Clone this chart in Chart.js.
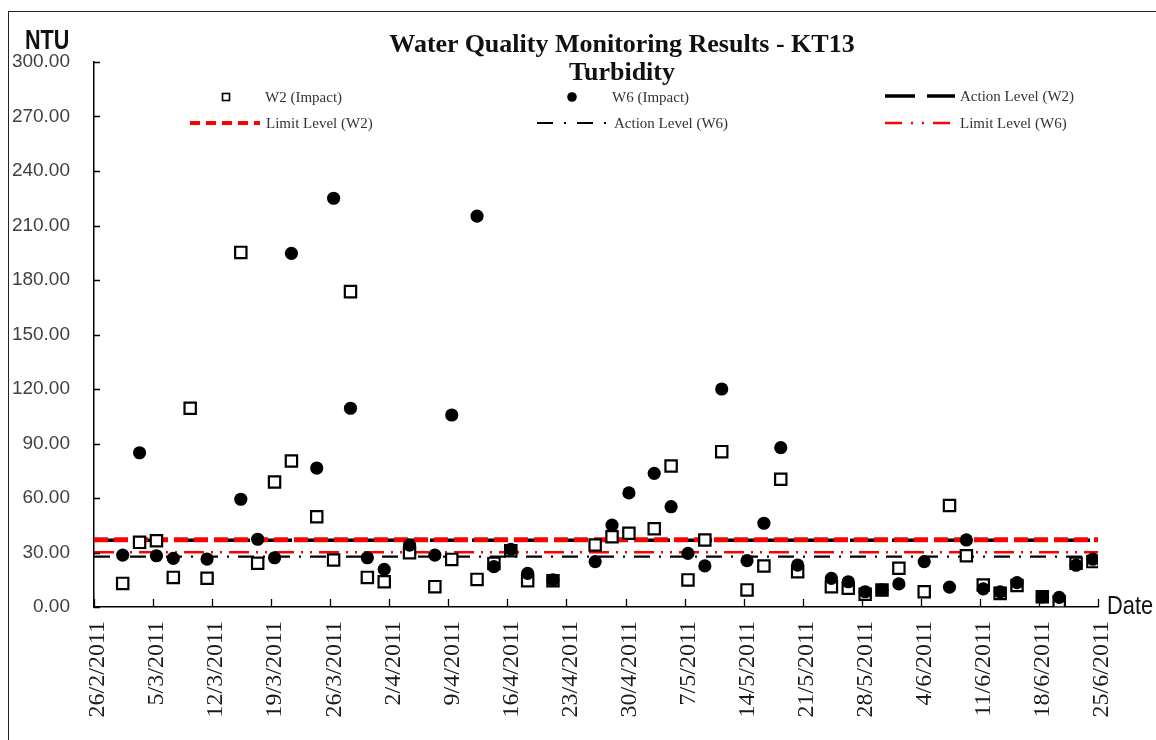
<!DOCTYPE html>
<html>
<head>
<meta charset="utf-8">
<title>Water Quality Monitoring Results - KT13</title>
<script src="https://cdn.jsdelivr.net/npm/chart.js@4.4.1/dist/chart.umd.min.js"></script>
<style>
    html, body { margin: 0; padding: 0; background: #fff; }
    body { width: 1156px; height: 740px; position: relative; overflow: hidden; }

    #frame {
        position: absolute; left: 8px; top: 11px; width: 1200px; height: 800px;
        border-left: 1.5px solid #222; border-top: 1.5px solid #222;
    }
    #chart { position: absolute; left: 0; top: 0; }

    .title {
        position: absolute; left: 0; width: 1244px; text-align: center;
        font: bold 26px "Liberation Serif", "Times New Roman", serif;
        line-height: 26px; color: #111;
    }
    .axis-name {
        position: absolute; font-family: "Liberation Sans", Arial, sans-serif;
        color: #111; line-height: 1; transform-origin: left top;
    }
    #ntu { left: 25px; top: 27px; font-size: 27px; font-weight: bold; transform: scaleX(0.8); }
    #date { left: 1107px; top: 592px; font-size: 26px; transform: scaleX(0.84); }

    .legend-item { position: absolute; height: 16px; }
    .legend-item svg { position: absolute; top: 0; }
    .legend-item span {
        position: absolute; top: 0; white-space: nowrap;
        font: 15px "Liberation Serif", "Times New Roman", serif;
        line-height: 16px; color: #333;
    }
</style>
</head>
<body>
<div id="frame"></div>
<canvas id="chart" width="1156" height="740"></canvas>

<div class="title" style="top:31px">Water Quality Monitoring Results - KT13</div>
<div class="title" style="top:59px">Turbidity</div>
<div class="axis-name" id="ntu">NTU</div>
<div class="axis-name" id="date">Date</div>

<!-- legend: 3 columns x 2 rows, same as the report template -->
<div class="legend-item" style="left:190px; top:89px">
    <svg width="75" height="16"><rect x="32.5" y="4.5" width="7" height="7" fill="#fff" stroke="#000" stroke-width="1.6"/></svg>
    <span style="left:75px">W2 (Impact)</span>
</div>
<div class="legend-item" style="left:537px; top:89px">
    <svg width="75" height="16"><circle cx="35" cy="8" r="4.8" fill="#000"/></svg>
    <span style="left:75px">W6 (Impact)</span>
</div>
<div class="legend-item" style="left:885px; top:88px">
    <svg width="72" height="16"><line x1="0" y1="8" x2="70" y2="8" stroke="#000" stroke-width="3.5" stroke-dasharray="30 12"/></svg>
    <span style="left:75px">Action Level (W2)</span>
</div>
<div class="legend-item" style="left:190px; top:115px">
    <svg width="72" height="16"><line x1="0" y1="8" x2="70" y2="8" stroke="#f00" stroke-width="4" stroke-dasharray="10 6"/></svg>
    <span style="left:76px">Limit Level (W2)</span>
</div>
<div class="legend-item" style="left:537px; top:115px">
    <svg width="72" height="16"><line x1="0" y1="8" x2="70" y2="8" stroke="#000" stroke-width="2.2" stroke-dasharray="16 11 2 11"/></svg>
    <span style="left:77px">Action Level (W6)</span>
</div>
<div class="legend-item" style="left:885px; top:115px">
    <svg width="72" height="16"><line x1="0" y1="8" x2="70" y2="8" stroke="#f00" stroke-width="2.4" stroke-dasharray="17 9 2 9 2 9"/></svg>
    <span style="left:75px">Limit Level (W6)</span>
</div>

<script>
/* ---------- Data ---------- */
const tickLabels = [
    "26/2/2011", "5/3/2011", "12/3/2011", "19/3/2011", "26/3/2011", "2/4/2011",
    "9/4/2011", "16/4/2011", "23/4/2011", "30/4/2011", "7/5/2011", "14/5/2011",
    "21/5/2011", "28/5/2011", "4/6/2011", "11/6/2011", "18/6/2011", "25/6/2011"
];

const sampleDates = [
    "1/3/2011", "3/3/2011", "5/3/2011", "7/3/2011", "9/3/2011", "11/3/2011",
    "15/3/2011", "17/3/2011", "19/3/2011", "21/3/2011", "24/3/2011", "26/3/2011",
    "28/3/2011", "30/3/2011", "1/4/2011", "4/4/2011", "7/4/2011", "9/4/2011",
    "12/4/2011", "14/4/2011", "16/4/2011", "18/4/2011", "21/4/2011", "26/4/2011",
    "28/4/2011", "30/4/2011", "3/5/2011", "5/5/2011", "7/5/2011", "9/5/2011",
    "11/5/2011", "14/5/2011", "16/5/2011", "18/5/2011", "20/5/2011", "24/5/2011",
    "26/5/2011", "28/5/2011", "30/5/2011", "1/6/2011", "4/6/2011", "7/6/2011",
    "9/6/2011", "11/6/2011", "13/6/2011", "15/6/2011", "18/6/2011", "20/6/2011",
    "22/6/2011", "24/6/2011"
];

// NTU, W2 (Impact)
const w2Impact = [
    13.0, 35.6, 36.5, 16.3, 109.4, 15.8,
    195.2, 24.1, 68.8, 80.4, 49.7, 25.9,
    173.6, 16.3, 13.9, 29.9, 11.2, 26.2,
    15.2, 24.0, 31.0, 14.5, 14.5, 34.1,
    38.7, 40.6, 43.1, 77.6, 14.9, 36.9,
    85.5, 9.4, 22.6, 70.3, 19.4, 11.2,
    10.3, 7.0, 9.4, 21.3, 8.4, 55.9,
    28.2, 12.1, 7.5, 11.8, 5.7, 2.9,
    24.1, 25.0
];

// NTU, W6 (Impact) - no reading on 9/3
const w6Impact = [
    28.6, 84.9, 28.2, 26.8, null, 26.4,
    59.3, 37.3, 27.1, 194.7, 76.5, 225.0,
    109.4, 27.1, 20.7, 34.1, 28.6, 105.7,
    215.2, 22.2, 31.7, 18.5, 15.0, 25.0,
    45.1, 62.8, 73.6, 55.2, 29.5, 22.6,
    120.0, 25.5, 46.1, 87.7, 23.1, 15.8,
    13.9, 8.4, 9.4, 12.7, 25.0, 10.9,
    36.9, 10.0, 8.4, 13.4, 5.5, 5.3,
    23.0, 26.3
];

const actionLevelW2 = 36.8;
const limitLevelW2 = 37.0;
const actionLevelW6 = 27.7;
const limitLevelW6 = 30.1;

const SAMPLE_TIME = 0.4; // samples taken mid-morning (fraction of a day)

/* ---------- Helpers ---------- */
function dayIndex(str) {
    const [d, m, y] = str.split("/").map(Number);
    const [d0, m0, y0] = tickLabels[0].split("/").map(Number);
    return (Date.UTC(y, m - 1, d) - Date.UTC(y0, m0 - 1, d0)) / 86400000;
}

const lastDay = dayIndex(tickLabels[tickLabels.length - 1]);

function points(values) {
    return sampleDates
        .map((d, i) => ({ x: dayIndex(d) + SAMPLE_TIME, y: values[i] }))
        .filter(p => p.y !== null);
}

function levelLine(value) {
    return [{ x: 0, y: value }, { x: lastDay, y: value }];
}

/* ---------- Inward tick marks ---------- */
const inwardTicks = {
    id: "inwardTicks",
    afterDraw(chart) {
        const { ctx, chartArea, scales } = chart;
        ctx.save();
        ctx.strokeStyle = "#000";
        ctx.lineWidth = 1.3;
        ctx.beginPath();
        scales.y.ticks.forEach((t, i) => {
            const y = Math.round(scales.y.getPixelForTick(i)) + 0.5;
            ctx.moveTo(chartArea.left, y);
            ctx.lineTo(chartArea.left + 6, y);
        });
        scales.x.ticks.forEach((t, i) => {
            const x = Math.round(scales.x.getPixelForTick(i)) + 0.5;
            ctx.moveTo(x, chartArea.bottom);
            ctx.lineTo(x, chartArea.bottom - 8);
        });
        ctx.stroke();
        ctx.restore();
    }
};

/* ---------- Chart ---------- */
function lineSet(label, value, color, width, dash, order) {
    return {
        type: "line",
        label,
        data: levelLine(value),
        borderColor: color,
        borderWidth: width,
        borderDash: dash,
        pointRadius: 0,
        showLine: true,
        fill: false,
        order
    };
}

function init() {
    const ctx = document.getElementById("chart").getContext("2d");

    new Chart(ctx, {
        type: "scatter",
        data: {
            datasets: [
                {
                    label: "W2 (Impact)",
                    data: points(w2Impact),
                    pointStyle: "rect",
                    pointRadius: 8,
                    borderColor: "#000",
                    borderWidth: 2.2,
                    backgroundColor: "#fff",
                    order: 2
                },
                {
                    label: "W6 (Impact)",
                    data: points(w6Impact),
                    pointStyle: "circle",
                    pointRadius: 6.6,
                    borderWidth: 0,
                    backgroundColor: "#000",
                    order: 1
                },
                lineSet("Action Level (W2)", actionLevelW2, "#000", 3.5, [30, 12], 6),
                lineSet("Action Level (W6)", actionLevelW6, "#000", 2.2, [16, 9, 2, 9], 5),
                lineSet("Limit Level (W6)", limitLevelW6, "#f00", 2.4, [20, 7, 2, 7, 2, 7], 4),
                lineSet("Limit Level (W2)", limitLevelW2, "#f00", 5, [14, 6], 3)
            ]
        },
        options: {
            responsive: false,
            animation: false,
            devicePixelRatio: 1,
            events: [],
            layout: { padding: { left: 8, right: 58, top: 62, bottom: 0 } },
            plugins: {
                legend: { display: false },
                tooltip: { enabled: false },
                title: { display: false }
            },
            scales: {
                x: {
                    type: "linear",
                    min: 0,
                    max: lastDay,
                    afterFit: s => { s.height = 133; },
                    grid: { display: false, drawTicks: false },
                    border: { display: true, color: "#000", width: 1.5 },
                    ticks: {
                        stepSize: 7,
                        autoSkip: false,
                        maxRotation: 90,
                        minRotation: 90,
                        padding: 14,
                        labelOffset: 4,
                        color: "#1a1a1a",
                        font: { family: "'Liberation Serif', 'Times New Roman', serif", size: 24 },
                        callback: v => tickLabels[Math.round(v / 7)]
                    }
                },
                y: {
                    min: 0,
                    max: 300,
                    afterFit: s => { s.width = 86; },
                    grid: { display: false, drawTicks: false },
                    border: { display: true, color: "#000", width: 1.5 },
                    ticks: {
                        stepSize: 30,
                        padding: 24,
                        color: "#404040",
                        font: { family: "'Liberation Sans', Arial, sans-serif", size: 19 },
                        callback: v => v.toFixed(2)
                    }
                }
            }
        },
        plugins: [inwardTicks]
    });
}

document.addEventListener("DOMContentLoaded", init);
</script>
</body>
</html>
